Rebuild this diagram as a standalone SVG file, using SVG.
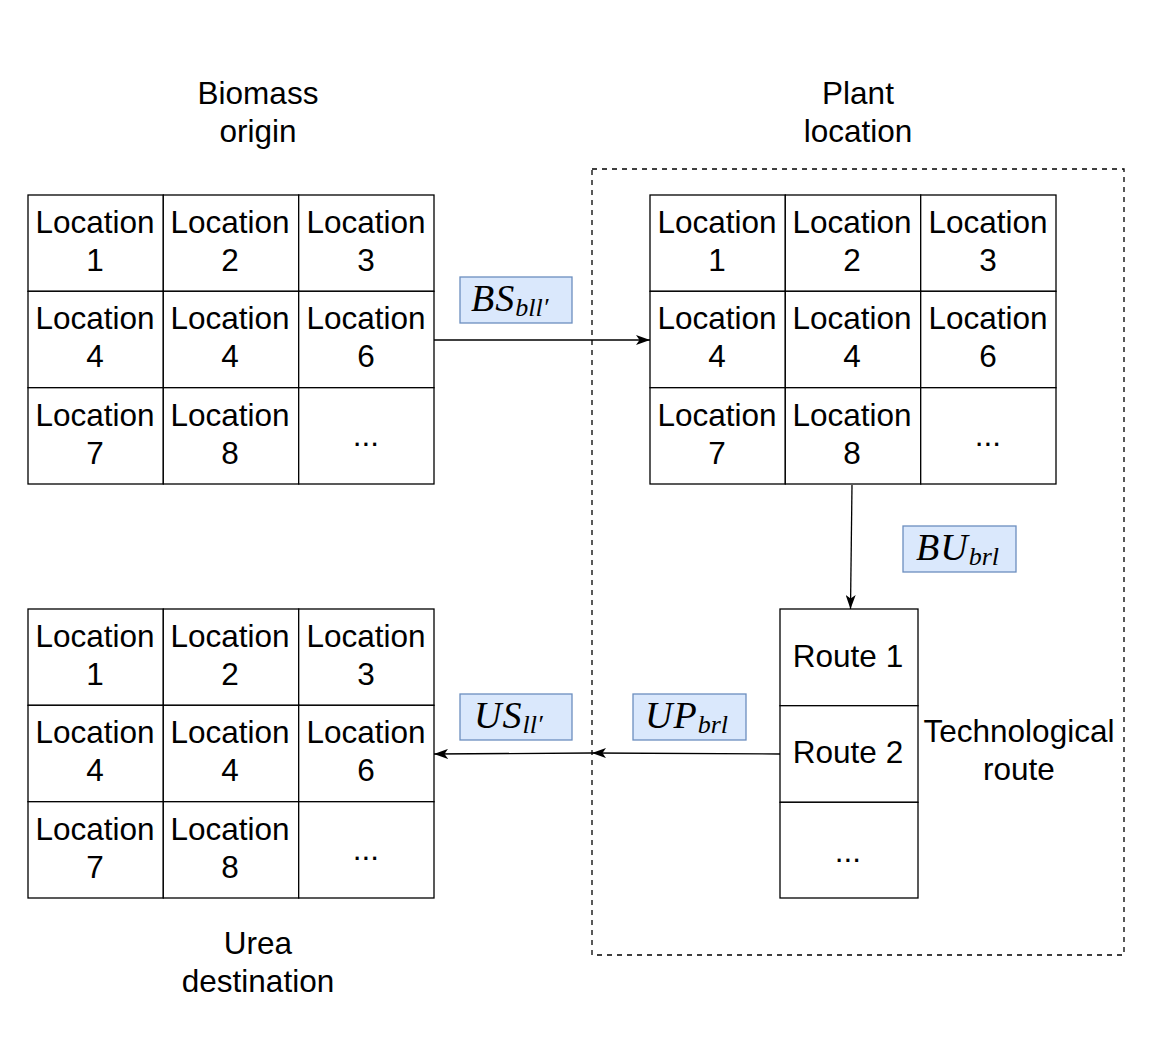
<svg xmlns="http://www.w3.org/2000/svg" width="1156" height="1044" viewBox="0 0 1156 1044">
<style>
.cell{fill:#ffffff;stroke:#000000;stroke-width:1.3}
.t{font-family:"Liberation Sans",Arial,sans-serif;font-size:31.5px;fill:#000000;text-anchor:middle}
.lbl{fill:#dae8fc;stroke:#6c8ebf;stroke-width:1.3}
.m{font-family:"Liberation Serif","Times New Roman",serif;font-style:italic;font-size:38px;fill:#000000;letter-spacing:1px}
.s{font-size:26px;letter-spacing:0}
.edge{fill:none;stroke:#000000;stroke-width:1.3}
</style>
<defs>
<marker id="arr" viewBox="0 0 14 10" refX="14" refY="5" markerWidth="14" markerHeight="10" markerUnits="userSpaceOnUse" orient="auto">
<path d="M0,0 L14,5 L0,10 L3.5,5 Z" fill="#000000"/>
</marker>
</defs>
<rect width="1156" height="1044" fill="#ffffff"/>
<g id="plant-container">
<rect x="592" y="169" width="532" height="786" fill="none" stroke="#000000" stroke-width="1.3" stroke-dasharray="5,5"/>
</g>
<g id="biomass-origin">
<text class="t" x="258" y="104">Biomass</text>
<text class="t" x="258" y="142">origin</text>
<rect class="cell" x="28" y="195" width="135.3" height="96.3"/>
<rect class="cell" x="163.3" y="195" width="135.4" height="96.3"/>
<rect class="cell" x="298.7" y="195" width="135.3" height="96.3"/>
<rect class="cell" x="28" y="291.3" width="135.3" height="96.4"/>
<rect class="cell" x="163.3" y="291.3" width="135.4" height="96.4"/>
<rect class="cell" x="298.7" y="291.3" width="135.3" height="96.4"/>
<rect class="cell" x="28" y="387.7" width="135.3" height="96.3"/>
<rect class="cell" x="163.3" y="387.7" width="135.4" height="96.3"/>
<rect class="cell" x="298.7" y="387.7" width="135.3" height="96.3"/>
<text class="t" x="95" y="233">Location</text><text class="t" x="95" y="271">1</text>
<text class="t" x="230" y="233">Location</text><text class="t" x="230" y="271">2</text>
<text class="t" x="366" y="233">Location</text><text class="t" x="366" y="271">3</text>
<text class="t" x="95" y="329">Location</text><text class="t" x="95" y="367">4</text>
<text class="t" x="230" y="329">Location</text><text class="t" x="230" y="367">4</text>
<text class="t" x="366" y="329">Location</text><text class="t" x="366" y="367">6</text>
<text class="t" x="95" y="426">Location</text><text class="t" x="95" y="464">7</text>
<text class="t" x="230" y="426">Location</text><text class="t" x="230" y="464">8</text>
<text class="t" x="366" y="446">...</text>
</g>
<g id="plant-location">
<text class="t" x="858" y="104">Plant</text>
<text class="t" x="858" y="142">location</text>
<rect class="cell" x="650" y="195" width="135.3" height="96.3"/>
<rect class="cell" x="785.3" y="195" width="135.4" height="96.3"/>
<rect class="cell" x="920.7" y="195" width="135.3" height="96.3"/>
<rect class="cell" x="650" y="291.3" width="135.3" height="96.4"/>
<rect class="cell" x="785.3" y="291.3" width="135.4" height="96.4"/>
<rect class="cell" x="920.7" y="291.3" width="135.3" height="96.4"/>
<rect class="cell" x="650" y="387.7" width="135.3" height="96.3"/>
<rect class="cell" x="785.3" y="387.7" width="135.4" height="96.3"/>
<rect class="cell" x="920.7" y="387.7" width="135.3" height="96.3"/>
<text class="t" x="717" y="233">Location</text><text class="t" x="717" y="271">1</text>
<text class="t" x="852" y="233">Location</text><text class="t" x="852" y="271">2</text>
<text class="t" x="988" y="233">Location</text><text class="t" x="988" y="271">3</text>
<text class="t" x="717" y="329">Location</text><text class="t" x="717" y="367">4</text>
<text class="t" x="852" y="329">Location</text><text class="t" x="852" y="367">4</text>
<text class="t" x="988" y="329">Location</text><text class="t" x="988" y="367">6</text>
<text class="t" x="717" y="426">Location</text><text class="t" x="717" y="464">7</text>
<text class="t" x="852" y="426">Location</text><text class="t" x="852" y="464">8</text>
<text class="t" x="988" y="446">...</text>
</g>
<g id="urea-destination">
<text class="t" x="258" y="954">Urea</text>
<text class="t" x="258" y="992">destination</text>
<rect class="cell" x="28" y="609" width="135.3" height="96.3"/>
<rect class="cell" x="163.3" y="609" width="135.4" height="96.3"/>
<rect class="cell" x="298.7" y="609" width="135.3" height="96.3"/>
<rect class="cell" x="28" y="705.3" width="135.3" height="96.4"/>
<rect class="cell" x="163.3" y="705.3" width="135.4" height="96.4"/>
<rect class="cell" x="298.7" y="705.3" width="135.3" height="96.4"/>
<rect class="cell" x="28" y="801.7" width="135.3" height="96.3"/>
<rect class="cell" x="163.3" y="801.7" width="135.4" height="96.3"/>
<rect class="cell" x="298.7" y="801.7" width="135.3" height="96.3"/>
<text class="t" x="95" y="647">Location</text><text class="t" x="95" y="685">1</text>
<text class="t" x="230" y="647">Location</text><text class="t" x="230" y="685">2</text>
<text class="t" x="366" y="647">Location</text><text class="t" x="366" y="685">3</text>
<text class="t" x="95" y="743">Location</text><text class="t" x="95" y="781">4</text>
<text class="t" x="230" y="743">Location</text><text class="t" x="230" y="781">4</text>
<text class="t" x="366" y="743">Location</text><text class="t" x="366" y="781">6</text>
<text class="t" x="95" y="840">Location</text><text class="t" x="95" y="878">7</text>
<text class="t" x="230" y="840">Location</text><text class="t" x="230" y="878">8</text>
<text class="t" x="366" y="860">...</text>
</g>
<g id="technological-route">
<rect class="cell" x="780" y="609" width="138" height="96.7"/>
<rect class="cell" x="780" y="705.7" width="138" height="96.6"/>
<rect class="cell" x="780" y="802.3" width="138" height="95.7"/>
<text class="t" x="848" y="667">Route 1</text>
<text class="t" x="848" y="763">Route 2</text>
<text class="t" x="848" y="862">...</text>
<text class="t" x="1019" y="742">Technological</text>
<text class="t" x="1019" y="780">route</text>
</g>
<g id="connectors">
<path class="edge" d="M434,340 L650,340" marker-end="url(#arr)"/>
<path class="edge" d="M852,485 L850.5,609" marker-end="url(#arr)"/>
<path class="edge" d="M780,754 L592,753" marker-end="url(#arr)"/>
<path class="edge" d="M592,753 L434,754" marker-end="url(#arr)"/>
</g>
<g id="label-BS">
<rect class="lbl" x="460" y="277" width="112" height="46"/>
<text class="m" x="471" y="311">BS<tspan class="s" dy="5">bll′</tspan></text>
</g>
<g id="label-BU">
<rect class="lbl" x="903" y="526" width="113" height="46"/>
<text class="m" x="916" y="560">BU<tspan class="s" dy="5">brl</tspan></text>
</g>
<g id="label-US">
<rect class="lbl" x="460" y="694" width="112" height="46"/>
<text class="m" x="474" y="728">US<tspan class="s" dy="5">ll′</tspan></text>
</g>
<g id="label-UP">
<rect class="lbl" x="633" y="694" width="113" height="46"/>
<text class="m" x="645" y="728">UP<tspan class="s" dy="5">brl</tspan></text>
</g>
</svg>
